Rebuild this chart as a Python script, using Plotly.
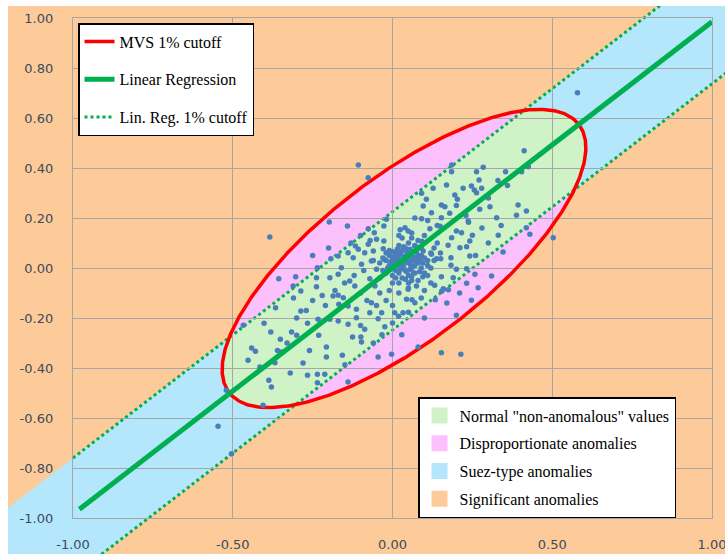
import numpy as np
import plotly.graph_objects as go

# ---------------- data ----------------
X_VALUES = [
    -0.107, -0.076,
    0.579, 0.412, 0.185, 0.185, 0.284, 0.263, 0.354, 0.404, 0.425, 0.271, 0.169, 0.127, 0.221, 0.247,
    0.256, 0.279, 0.263, 0.195, 0.203, 0.091, 0.106, 0.096, 0.153, 0.164, 0.305, 0.393,
    -0.198, -0.141, -0.384, -0.076, -0.057, -0.027, -0.019, -0.050, -0.027, -0.076, -0.116, -0.139,
    -0.107, -0.193, -0.170, -0.123, -0.087, -0.060, -0.029, -0.235, -0.160, -0.097, -0.066, -0.026,
    -0.356, -0.303, -0.311, -0.287, -0.238, -0.238, -0.196, -0.170, -0.134, -0.118, -0.071, -0.055,
    -0.186, -0.170, -0.154, -0.168, -0.139, -0.113, -0.066, -0.034, -0.071, 0.007, -0.366, -0.402,
    -0.467, -0.266, -0.233, -0.196, -0.170, -0.139, -0.113, -0.087, -0.045, -0.024, -0.381, -0.316,
    -0.287,
    0.122, 0.179, 0.237, 0.273, 0.326, 0.388, 0.419, 0.091, 0.153, 0.039, 0.049, 0.117, 0.200, 0.216,
    0.250, 0.185, 0.242, 0.331, 0.419, 0.430, 0.503, 0.174, 0.211, 0.232, 0.122, 0.138, 0.151, 0.183,
    0.242, 0.346, 0.070, 0.096, 0.183, 0.200, 0.232, 0.258, 0.310, 0.153, 0.190, 0.232, 0.268, 0.247,
    0.200, 0.159, 0.132, 0.075, 0.070, 0.049, 0.044, 0.033,
    -0.351, -0.300, -0.231, -0.441, -0.429, -0.452, -0.415, -0.368, -0.347, -0.387, -0.379, -0.520,
    -0.405, -0.266, -0.235, -0.212, -0.235, -0.207, -0.207, -0.157, -0.149, -0.139, -0.125, -0.099,
    -0.097, -0.045, -0.003, -0.546, -0.504,
    0.080, 0.153, 0.214,
    0.029, -0.033, 0.019, 0.050, 0.061, 0.134, 0.154, 0.175, 0.024, 0.149, 0.092, 0.238,
    -0.040, -0.010, -0.050, -0.020, -0.090, -0.100, -0.040, -0.020, -0.250, -0.210, -0.310, 0.020,
    0.060, 0.100, 0.130, 0.150, 0.120, 0.100, 0.090, 0.020, -0.010, 0.050, -0.070, -0.100, -0.130,
    -0.120, -0.080, 0.000, 0.110, 0.070,
    0.000, 0.010, 0.020, 0.030, 0.040, 0.050, 0.020, 0.010, 0.030, 0.060, 0.070, 0.080, 0.060, 0.040,
    0.020, 0.000, -0.010, 0.010, 0.050, 0.070, 0.090, 0.080, 0.040, 0.000, -0.020, 0.030, 0.060,
    0.015, 0.035, 0.055, 0.025, 0.045, 0.065, 0.005, 0.075, 0.085, 0.095, 0.100, 0.020, -0.010,
    0.110, 0.120, 0.050, -0.030, 0.000, 0.030, 0.080, 0.110, 0.090, 0.060,
    0.010, 0.020, 0.030, 0.040, 0.050, 0.060, 0.070, 0.035, 0.045, 0.055, 0.065, 0.075, 0.025, 0.015,
    0.005, -0.005, -0.015, 0.000, 0.035, 0.045, 0.090, 0.100, 0.085, 0.095, 0.060, 0.040, 0.010,
    -0.020, -0.030, 0.120, 0.130, 0.110, 0.070, 0.055, 0.020, 0.050, -0.040, -0.060, 0.140, 0.080,
    -0.200, -0.180, -0.220, -0.270, -0.300, -0.330, -0.360, -0.260, -0.280, -0.320, 0.200, 0.230,
    0.300, 0.330, 0.360, 0.280, 0.300, 0.260, 0.340, 0.140, -0.050, -0.100, -0.060, 0.000, 0.100,
    0.170, 0.210, -0.150, -0.200, -0.250,
]
Y_VALUES = [
    0.412, 0.361,
    0.701, 0.469, 0.412, 0.385, 0.403, 0.385, 0.385, 0.385, 0.405, 0.352, 0.332, 0.319, 0.319, 0.328,
    0.312, 0.319, 0.301, 0.292, 0.275, 0.299, 0.275, 0.248, 0.252, 0.245, 0.245, 0.252,
    0.184, 0.168, 0.124, 0.157, 0.141, 0.168, 0.195, 0.115, 0.108, 0.095, 0.088, 0.061,
    0.075, 0.037, 0.048, 0.041, 0.061, 0.068, 0.077, 0.001, 0.001, 0.015, 0.028, 0.035,
    -0.043, -0.035, -0.072, -0.092, -0.075, -0.039, -0.039, -0.025, -0.052, -0.072, -0.043, -0.072,
    -0.112, -0.109, -0.119, -0.145, -0.152, -0.165, -0.139, -0.179, -0.179, -0.179, -0.159, -0.221,
    -0.229, -0.221, -0.205, -0.205, -0.212, -0.225, -0.199, -0.245, -0.203, -0.235, -0.256, -0.256,
    -0.172,
    0.221, 0.219, 0.188, 0.235, 0.201, 0.211, 0.228, 0.197, 0.201, 0.161, 0.148, 0.157, 0.148, 0.141,
    0.131, 0.121, 0.108, 0.131, 0.161, 0.135, 0.121, 0.091, 0.081, 0.085, 0.055, 0.037, 0.037, 0.041,
    0.048, 0.064, 0.088, 0.068, 0.011, -0.005, -0.003, -0.025, -0.032, -0.035, -0.039, -0.061, -0.079, -0.129,
    -0.189, -0.083, -0.069, -0.072, -0.139, -0.085, -0.125, -0.179,
    -0.285, -0.269, -0.269, -0.320, -0.333, -0.369, -0.396, -0.379, -0.336, -0.449, -0.476, -0.489,
    -0.549, -0.429, -0.425, -0.425, -0.459, -0.316, -0.356, -0.349, -0.387, -0.456, -0.276, -0.276,
    -0.296, -0.356, -0.345, -0.633, -0.743,
    -0.316, -0.339, -0.345,
    -0.267, -0.267, -0.193, -0.177, -0.127, -0.127, -0.093, -0.087, 0.153, 0.167, 0.107, 0.183,
    0.020, 0.050, -0.005, -0.020, -0.010, -0.100, -0.100, -0.130, -0.130, -0.150, -0.120, 0.130,
    0.140, 0.130, 0.080, 0.060, -0.060, -0.090, -0.120, -0.100, -0.090, -0.060, 0.110, 0.130, 0.100,
    -0.030, -0.130, -0.150, 0.190, 0.200,
    0.000, 0.020, 0.010, 0.030, 0.020, 0.040, 0.050, 0.060, 0.070, 0.060, 0.030, 0.020, 0.000, -0.010,
    -0.020, -0.030, 0.010, -0.010, -0.030, -0.020, 0.000, 0.050, 0.080, 0.040, 0.030, -0.040, -0.050,
    0.035, 0.045, 0.015, -0.005, 0.055, 0.045, 0.015, 0.065, 0.035, 0.020, -0.020, 0.090, 0.070,
    0.030, 0.000, 0.100, -0.010, -0.060, 0.120, -0.050, -0.030, 0.080, 0.120,
    0.030, 0.025, 0.015, 0.035, 0.025, 0.030, 0.010, 0.000, -0.015, -0.005, -0.020, 0.040, 0.060,
    0.075, 0.045, 0.025, 0.000, 0.065, 0.085, 0.065, 0.050, 0.040, -0.015, -0.035, -0.035, -0.045,
    -0.040, 0.060, 0.040, 0.060, 0.030, 0.010, 0.090, 0.075, -0.060, -0.080, -0.040, 0.030, 0.100,
    0.110,
    -0.200, -0.090, -0.110, -0.170, -0.200, -0.300, -0.330, -0.330, -0.380, -0.420, 0.250, 0.210,
    0.280, 0.350, 0.330, 0.160, 0.100, 0.050, 0.170, 0.170, -0.150, -0.230, -0.300, -0.220, -0.200,
    -0.140, -0.100, -0.060, 0.080, 0.050,
]

REG_INTERCEPT = 0.0
REG_SLOPE = 0.985
REG_CUT_UPPER = 0.225
REG_CUT_LOWER = -0.248
REG_X_RANGE = [-0.98, 1.0]
CUT_X_RANGE = [-1.0, 1.2]

MVS_CENTER = [0.036, 0.038]
MVS_SEMI_AXES = [0.77, 0.295]
MVS_ANGLE_DEG = 46.8

X_TICKS = [-1.0, -0.5, 0.0, 0.5, 1.0]
X_TICK_LABELS = ["-1.00", "-0.50", "0.00", "0.50", "1.00"]
Y_TICKS = [-1.0, -0.8, -0.6, -0.4, -0.2, 0.0, 0.2, 0.4, 0.6, 0.8, 1.0]
Y_TICK_LABELS = ["-1.00", "-0.80", "-0.60", "-0.40", "-0.20", "0.00", "0.20", "0.40", "0.60", "0.80", "1.00"]

LINE_NAMES = ["MVS 1% cutoff", "Linear Regression", "Lin. Reg. 1% cutoff"]
REGION_NAMES = ['Normal "non-anomalous" values', "Disproportionate anomalies",
                "Suez-type anomalies", "Significant anomalies"]

# ---------------- styles / layout geometry ----------------
C_GREEN_FILL = "#CFF3C7"
C_PINK = "#FCC0FC"
C_BLUE = "#B4E7FB"
C_ORANGE = "#FDCB99"
C_LINE_GREEN = "#00B050"
C_RED = "#FF0000"
C_POINT = "#4A7EBB"
C_GRID = "#A6A6A6"

W, H = 725, 554
L, R, T, B = 73, 712, 18, 518      # plot box in pixels
X0, Y0 = 8, 6                      # start of the coloured background

# background axes cover the whole coloured area with the same scale as the plot axes
bx = [-1 + 2 * (X0 - L) / (R - L), 1 + 2 * (W - R) / (R - L)]
by = [-1 - 2 * (H - B) / (B - T), 1 + 2 * (T - Y0) / (B - T)]


def reg(x):
    return REG_INTERCEPT + REG_SLOPE * np.asarray(x, dtype=float)


# ellipse outline
t = np.linspace(0, 2 * np.pi, 721)
phi = np.deg2rad(MVS_ANGLE_DEG)
a, b = MVS_SEMI_AXES
ex = MVS_CENTER[0] + a * np.cos(t) * np.cos(phi) - b * np.sin(t) * np.sin(phi)
ey = MVS_CENTER[1] + a * np.cos(t) * np.sin(phi) + b * np.sin(t) * np.cos(phi)


def clip(poly, f):
    out = []
    n = len(poly)
    for k in range(n):
        P, Q = poly[k], poly[(k + 1) % n]
        fp, fq = f(P), f(Q)
        if fp <= 0:
            out.append(P)
        if (fp <= 0) != (fq <= 0):
            s = fp / (fp - fq)
            out.append((P[0] + s * (Q[0] - P[0]), P[1] + s * (Q[1] - P[1])))
    return out


poly = list(zip(ex[:-1], ey[:-1]))
poly = clip(poly, lambda p: (p[1] - reg(p[0])) - REG_CUT_UPPER)
poly = clip(poly, lambda p: REG_CUT_LOWER - (p[1] - reg(p[0])))
gx = [p[0] for p in poly] + [poly[0][0]]
gy = [p[1] for p in poly] + [poly[0][1]]

fig = go.Figure()

# ----- background regions (full-figure axes x/y) -----
fig.add_trace(go.Scatter(x=[bx[0], bx[1], bx[1], bx[0], bx[0]], y=[by[0], by[0], by[1], by[1], by[0]],
                         fill="toself", fillcolor=C_ORANGE, mode="lines", line=dict(width=0),
                         showlegend=False, hoverinfo="skip", xaxis="x", yaxis="y"))
bxs = np.array(bx)
fig.add_trace(go.Scatter(x=[bxs[0], bxs[1], bxs[1], bxs[0], bxs[0]],
                         y=[reg(bxs[0]) + REG_CUT_LOWER, reg(bxs[1]) + REG_CUT_LOWER,
                            reg(bxs[1]) + REG_CUT_UPPER, reg(bxs[0]) + REG_CUT_UPPER,
                            reg(bxs[0]) + REG_CUT_LOWER],
                         fill="toself", fillcolor=C_BLUE, mode="lines", line=dict(width=0),
                         showlegend=False, hoverinfo="skip", xaxis="x", yaxis="y"))
fig.add_trace(go.Scatter(x=ex, y=ey, fill="toself", fillcolor=C_PINK, mode="lines", line=dict(width=0),
                         showlegend=False, hoverinfo="skip", xaxis="x", yaxis="y"))
fig.add_trace(go.Scatter(x=gx, y=gy, fill="toself", fillcolor=C_GREEN_FILL, mode="lines", line=dict(width=0),
                         showlegend=False, hoverinfo="skip", xaxis="x", yaxis="y"))
cx = np.array(CUT_X_RANGE)
fig.add_trace(go.Scatter(x=cx, y=reg(cx) + REG_CUT_UPPER, mode="lines",
                         line=dict(color=C_LINE_GREEN, width=3, dash="dot"),
                         name=LINE_NAMES[2], legend="legend", legendgroup="g3", legendrank=3,
                         hoverinfo="skip", xaxis="x", yaxis="y"))
fig.add_trace(go.Scatter(x=cx, y=reg(cx) + REG_CUT_LOWER, mode="lines",
                         line=dict(color=C_LINE_GREEN, width=3, dash="dot"),
                         showlegend=False, hoverinfo="skip", xaxis="x", yaxis="y"))

# ----- main axes x2/y2 -----
fig.add_trace(go.Scatter(x=ex, y=ey, mode="lines", line=dict(color=C_RED, width=3.5),
                         name=LINE_NAMES[0], legend="legend", legendgroup="g1", legendrank=1,
                         hoverinfo="skip", xaxis="x2", yaxis="y2"))
fig.add_trace(go.Scatter(x=X_VALUES, y=Y_VALUES, mode="markers",
                         marker=dict(color=C_POINT, size=5.5), showlegend=False,
                         xaxis="x2", yaxis="y2"))
rx = np.array(REG_X_RANGE)
fig.add_trace(go.Scatter(x=rx, y=reg(rx), mode="lines", line=dict(color=C_LINE_GREEN, width=5),
                         name=LINE_NAMES[1], legend="legend", legendgroup="g2", legendrank=2,
                         hoverinfo="skip", xaxis="x2", yaxis="y2"))

# legend swatches for the regions
for i, (nm, col) in enumerate(zip(REGION_NAMES, [C_GREEN_FILL, C_PINK, C_BLUE, C_ORANGE])):
    fig.add_trace(go.Scatter(x=[None], y=[None], mode="markers",
                             marker=dict(symbol="square", size=20, color=col),
                             name=nm, legend="legend2", legendgroup="r%d" % i, legendrank=10 + i,
                             xaxis="x2", yaxis="y2"))

tickfont = dict(family="DejaVu Sans", size=13, color="#404A5A")
legfont = dict(family="Liberation Serif", size=16, color="black")

fig.update_layout(
    width=W, height=H,
    margin=dict(l=0, r=0, t=0, b=0, pad=0, autoexpand=False),
    paper_bgcolor="white",
    plot_bgcolor="rgba(0,0,0,0)",
    hovermode=False,
    xaxis=dict(domain=[X0 / W, 1], range=bx, visible=False, showgrid=False, zeroline=False,
               fixedrange=True, automargin=False),
    yaxis=dict(domain=[0, 1 - Y0 / H], range=by, visible=False, showgrid=False, zeroline=False,
               fixedrange=True, automargin=False),
    xaxis2=dict(domain=[L / W, R / W], range=[-1, 1], anchor="y2", automargin=False,
                tickvals=X_TICKS, ticktext=X_TICK_LABELS, tickfont=tickfont,
                showgrid=True, gridcolor=C_GRID, gridwidth=1.3, zeroline=False,
                showline=True, linecolor=C_GRID, linewidth=1.3, mirror=True,
                ticks="", ticklabelstandoff=14, ticklabeloverflow="allow", fixedrange=True),
    yaxis2=dict(domain=[1 - B / H, 1 - T / H], range=[-1, 1], anchor="x2", automargin=False,
                tickvals=Y_TICKS, ticktext=Y_TICK_LABELS, tickfont=tickfont,
                showgrid=True, gridcolor=C_GRID, gridwidth=1.3, zeroline=False,
                showline=True, linecolor=C_GRID, linewidth=1.3, mirror=True,
                ticks="", ticklabelstandoff=16, ticklabeloverflow="allow", fixedrange=True),
    legend=dict(x=78 / W, y=1 - 23 / H, xanchor="left", yanchor="top", bgcolor="white",
                bordercolor="black", borderwidth=1.5, font=legfont, tracegroupgap=14,
                traceorder="grouped"),
    legend2=dict(x=418 / W, y=1 - 397 / H, xanchor="left", yanchor="top", bgcolor="white",
                 bordercolor="black", borderwidth=1.5, font=legfont, tracegroupgap=4,
                 traceorder="grouped"),
)

fig.write_html("out.html", config={"displayModeBar": False},
               post_script="document.body.style.margin='0px';document.body.style.overflow='hidden';")
